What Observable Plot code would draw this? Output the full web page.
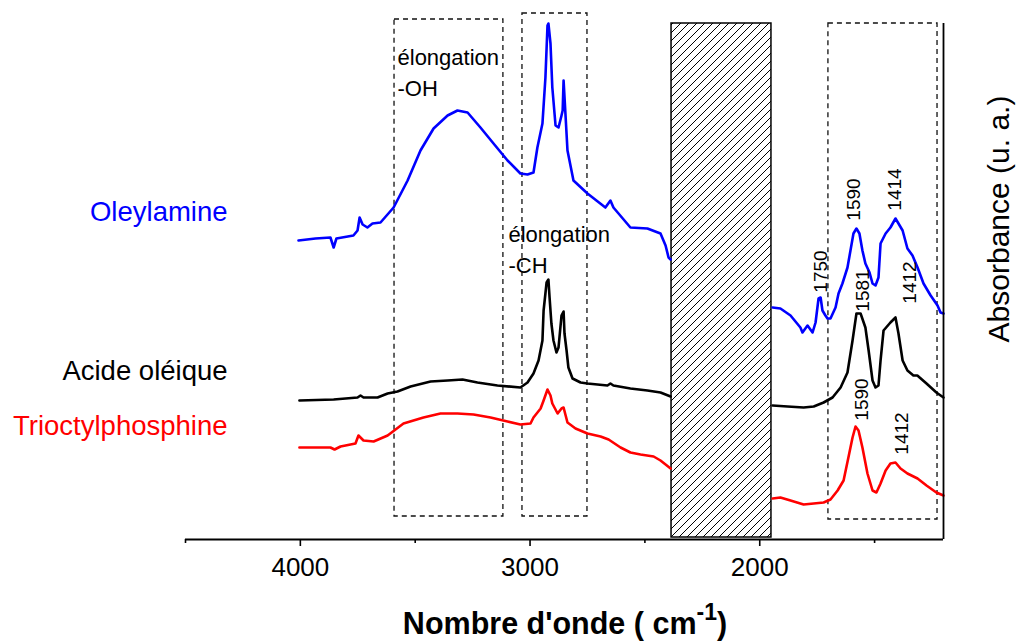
<!DOCTYPE html>
<html>
<head>
<meta charset="utf-8">
<script src="https://cdn.jsdelivr.net/npm/d3@7"></script>
<script src="https://cdn.jsdelivr.net/npm/@observablehq/plot@0.6"></script>
<style>
  html, body { margin: 0; padding: 0; background: #fff; }
  #chart { width: 1018px; height: 641px; }
</style>
</head>
<body>
<div id="chart"></div>
<script>
// ---------- Data (wavenumber cm-1, absorbance a.u. with vertical offsets) ----------
const oleylamineLeftWn  = [4008,3934,3869,3855,3843,3769,3751,3742,3729,3708,3686,3651,3594,3533,3477,3420,3359,3316,3272,3216,3159,3098,3042,3011,2985,2968,2946,2933,2924,2920,2911,2903,2889,2876,2863,2858,2854,2845,2837,2811,2750,2672,2650,2637,2563,2489,2432,2410,2397,2388];
const oleylamineLeftAbs = [2.99,3.01,3.02,2.92,3.01,3.04,3.09,3.22,3.15,3.12,3.16,3.17,3.32,3.59,3.89,4.11,4.24,4.29,4.27,4.12,3.96,3.79,3.66,3.65,3.67,3.92,4.16,4.62,5.14,5.16,4.96,4.52,4.14,4.12,4.24,4.29,4.59,4.22,3.89,3.59,3.46,3.32,3.39,3.32,3.12,3.11,3.06,2.94,2.82,2.80];
const oleylamineRightWn  = [1944,1910,1866,1823,1814,1792,1770,1757,1744,1735,1727,1714,1705,1692,1670,1657,1640,1618,1605,1592,1579,1566,1553,1540,1522,1509,1496,1483,1474,1452,1431,1409,1396,1378,1357,1335,1313,1287,1256,1226,1213,1200];
const oleylamineRightAbs = [2.32,2.31,2.24,2.12,2.07,2.14,2.07,2.17,2.41,2.42,2.29,2.24,2.21,2.21,2.32,2.46,2.56,2.72,2.89,3.06,3.11,3.06,2.89,2.76,2.67,2.56,2.54,2.62,2.96,3.06,3.12,3.21,3.16,3.09,2.91,2.84,2.72,2.56,2.44,2.34,2.27,2.26];

const oleicLeftWn  = [4004,3855,3751,3738,3725,3708,3664,3620,3577,3520,3433,3359,3294,3229,3142,3042,3011,2985,2963,2946,2941,2928,2920,2915,2907,2898,2885,2876,2863,2854,2850,2841,2833,2815,2780,2750,2663,2650,2637,2563,2489,2432,2388];
const oleicLeftAbs = [1.39,1.40,1.42,1.44,1.42,1.42,1.42,1.46,1.48,1.53,1.58,1.59,1.60,1.57,1.54,1.52,1.57,1.66,1.79,1.99,2.29,2.57,2.60,2.42,2.16,1.99,1.87,1.92,2.24,2.28,2.06,1.89,1.72,1.61,1.57,1.56,1.54,1.56,1.54,1.51,1.49,1.47,1.43];
const oleicRightWn  = [1944,1879,1809,1765,1722,1683,1648,1618,1596,1579,1561,1540,1526,1509,1496,1483,1474,1461,1431,1409,1396,1378,1357,1331,1314,1274,1231,1200];
const oleicRightAbs = [1.34,1.33,1.32,1.33,1.37,1.42,1.52,1.67,1.99,2.26,2.26,2.12,1.89,1.59,1.52,1.54,1.79,2.09,2.17,2.22,2.06,1.79,1.69,1.64,1.64,1.56,1.47,1.42];

const topLeftWn  = [4004,3869,3851,3825,3760,3747,3725,3681,3620,3551,3464,3390,3316,3246,3172,3098,3042,2998,2985,2954,2941,2924,2911,2903,2880,2863,2854,2845,2837,2802,2750,2693,2658,2606,2563,2519,2462,2432,2388];
const topLeftAbs = [0.92,0.92,0.90,0.93,0.96,1.04,0.99,0.98,1.04,1.16,1.22,1.26,1.26,1.25,1.22,1.18,1.15,1.16,1.22,1.31,1.39,1.50,1.44,1.36,1.26,1.31,1.32,1.24,1.17,1.11,1.06,1.03,1.00,0.92,0.87,0.85,0.83,0.79,0.71];
const topRightWn  = [1944,1910,1866,1809,1765,1722,1692,1661,1635,1614,1596,1583,1570,1553,1531,1509,1492,1474,1452,1431,1409,1387,1357,1313,1274,1231,1200];
const topRightAbs = [0.41,0.42,0.39,0.35,0.36,0.37,0.40,0.49,0.59,0.82,1.02,1.13,1.09,0.92,0.66,0.49,0.47,0.56,0.69,0.76,0.77,0.71,0.66,0.61,0.54,0.47,0.44];

const seriesNames  = ["Oleylamine", "Acide oléique", "Trioctylphosphine"];
const seriesColors = ["#0000ff", "#000000", "#ff0000"];
const seriesLabelWn  = [4317, 4317, 4317];
const seriesLabelAbs = [3.385, 1.795, 1.245];

// dashed boxes (band regions) and hatched excluded region
const boxWn1  = [3590, 3033, 1701];
const boxWn2  = [3116, 2750, 1226];
const boxAbs1 = [0.23, 0.23, 0.20];
const boxAbs2 = [5.20, 5.26, 5.16];
const hatchWn  = [2384, 1949];
const hatchAbs = [0.02, 5.16];

// band annotations
const bandText   = ["élongation\n-OH", "élongation\n-CH"];
const bandTextWn  = [3577, 3094];
const bandTextAbs = [4.966, 3.196];

const peakText   = ["1750", "1590", "1414", "1581", "1412", "1590", "1412"];
const peakTextWn  = [1735, 1592, 1410, 1553, 1348, 1557, 1383];
const peakTextAbs = [2.68, 3.40, 3.50, 2.49, 2.57, 1.40, 1.06];
const peakColor   = ["#000", "#000", "#000", "#000", "#000", "#000", "#000"];

const majorTicks = [4000, 3000, 2000];
const minorTicks = [4500, 3500, 2500, 1500];
const xDomain = [4500, 1200];
const yDomain = [0, 5.39];

// ---------- build tables ----------
function seg(wn, ab, name, part) { return wn.map((w, i) => ({x: w, y: ab[i], s: name + part})); }
const lineSets = [
  [seg(oleylamineLeftWn, oleylamineLeftAbs, "o", "L"), seg(oleylamineRightWn, oleylamineRightAbs, "o", "R")].flat(),
  [seg(oleicLeftWn, oleicLeftAbs, "a", "L"), seg(oleicRightWn, oleicRightAbs, "a", "R")].flat(),
  [seg(topLeftWn, topLeftAbs, "t", "L"), seg(topRightWn, topRightAbs, "t", "R")].flat()
];
const boxes = boxWn1.map((w, i) => ({x1: w, x2: boxWn2[i], y1: boxAbs1[i], y2: boxAbs2[i]}));
const hatch = [{x1: hatchWn[0], x2: hatchWn[1], y1: hatchAbs[0], y2: hatchAbs[1]}];
const seriesLabels = seriesNames.map((n, i) => ({t: n, x: seriesLabelWn[i], y: seriesLabelAbs[i], c: seriesColors[i]}));
const bands = bandText.map((t, i) => ({t, x: bandTextWn[i], y: bandTextAbs[i]}));
const peaks = peakText.map((t, i) => ({t, x: peakTextWn[i], y: peakTextAbs[i], c: peakColor[i]}));

const FONT = "'Liberation Sans', Arial, Helvetica, sans-serif";

const marks = [
  Plot.rect(hatch, {x1: "x1", x2: "x2", y1: "y1", y2: "y2", fill: "url(#hatch)", stroke: "#000", strokeWidth: 1.5}),
  Plot.rect(boxes, {x1: "x1", x2: "x2", y1: "y1", y2: "y2", fill: "none", stroke: "#111", strokeWidth: 1.3, strokeDasharray: "5,4"}),
  ...lineSets.map((d, i) => Plot.line(d, {x: "x", y: "y", z: "s", stroke: seriesColors[i], strokeWidth: 2.6, strokeLinejoin: "round"})),
  Plot.text(seriesLabels, {x: "x", y: "y", text: "t", fill: "c", fontSize: 27.5, textAnchor: "end", lineAnchor: "top"}),
  Plot.text(bands, {x: "x", y: "y", text: "t", fill: "#000", fontSize: 22, textAnchor: "start", lineAnchor: "top", lineHeight: 1.41}),
  Plot.text(peaks, {x: "x", y: "y", text: "t", fill: "c", fontSize: 19, rotate: -90, textAnchor: "middle", lineAnchor: "middle"}),
  Plot.ruleY([0], {stroke: "#000", strokeWidth: 1.8}),
  Plot.ruleX([xDomain[1]], {y1: 0, y2: hatchAbs[1], stroke: "#000", strokeWidth: 1.8}),
  Plot.axisX(majorTicks, {tickSize: 7, tickPadding: 11, tickFormat: d => String(d), fontSize: 26, label: null, strokeWidth: 1.6}),
  Plot.axisX(minorTicks, {tickSize: 4, tickFormat: () => "", label: null, strokeWidth: 1.6})
];

const svg = Plot.plot({
  width: 1018,
  height: 641,
  marginLeft: 185,
  marginRight: 75,
  marginTop: 0,
  marginBottom: 102,
  x: {domain: xDomain},
  y: {domain: yDomain, axis: null},
  style: {fontFamily: FONT, background: "#fff", color: "#000", overflow: "visible"},
  marks
});

const s = d3.select(svg);
s.insert("defs", ":first-child").html(
  '<pattern id="hatch" patternUnits="userSpaceOnUse" width="8" height="8">' +
  '<rect width="8" height="8" fill="#fff"/>' +
  '<path d="M-2,2 l4,-4 M0,8 l8,-8 M6,10 l4,-4" stroke="#000" stroke-width="1"/></pattern>');

// x-axis title with superscript
const xt = s.append("text")
  .attr("x", 565).attr("y", 634)
  .attr("text-anchor", "middle")
  .attr("font-family", FONT).attr("font-weight", "bold").attr("font-size", 30.5)
  .attr("fill", "#000");
xt.append("tspan").text("Nombre d'onde ( cm");
xt.append("tspan").attr("dy", -14).attr("font-size", 23).text("-1");
xt.append("tspan").attr("dy", 14).text(")");

// y-axis title on the right
s.append("text")
  .attr("transform", "translate(1009,219) rotate(-90)")
  .attr("text-anchor", "middle")
  .attr("font-family", FONT).attr("font-size", 30)
  .attr("fill", "#000")
  .text("Absorbance (u. a.)");

document.getElementById("chart").appendChild(svg);
</script>
</body>
</html>
